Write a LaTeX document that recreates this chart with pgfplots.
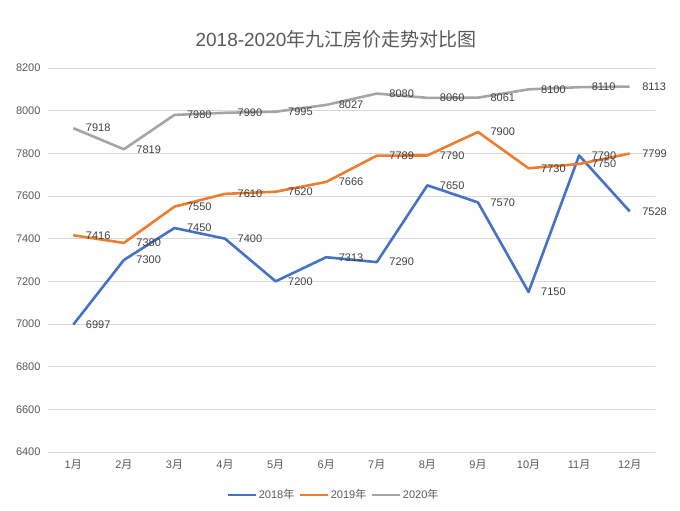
\documentclass[border=0pt]{standalone}
\usepackage{pgfplots}
\pgfplotsset{compat=1.18}
\usepackage{fontspec}
\setmainfont{Liberation Sans}
\newfontfamily\cjk{Noto Sans CJK SC}
\definecolor{c18}{HTML}{4472C4}
\definecolor{c19}{HTML}{ED7D31}
\definecolor{c20}{HTML}{A5A5A5}
\definecolor{gridc}{HTML}{D9D9D9}
\definecolor{tickc}{HTML}{595959}
\definecolor{labc}{HTML}{404040}
\newcommand{\yue}{{\cjk 月}}
\newcommand{\nian}{{\cjk 年}}
\begin{document}
\begin{tikzpicture}
\useasboundingbox (0,0) rectangle (680bp,511bp);
\begin{axis}[
  at={(48bp,59bp)}, anchor=south west,
  width=607bp, height=384bp, scale only axis,
  xmin=-0.5, xmax=11.5, ymin=6400, ymax=8200,
  ytick={6400,6600,...,8200},
  xtick={0,...,11},
  xticklabels={1\yue,2\yue,3\yue,4\yue,5\yue,6\yue,7\yue,8\yue,9\yue,10\yue,11\yue,12\yue},
  ymajorgrids, grid style={gridc, line width=0.8bp},
  axis line style={draw=none},
  major tick length=0pt,
  tick label style={font=\fontsize{11bp}{13bp}\selectfont, text=tickc},
  /pgf/number format/assume math mode=true,
  /pgf/number format/.cd, fixed, precision=0, 1000 sep={},
  /pgfplots/.cd,
  yticklabel style={xshift=-4bp},
  xticklabel style={yshift=-4bp},
  clip=false,
  nodes near coords,
  point meta=y,
  nodes near coords style={anchor=west, xshift=8bp, font=\fontsize{11bp}{13bp}\selectfont, text=labc},
  every axis plot/.append style={line width=2.6bp, line join=round, mark=none},
  legend columns=3,
  legend style={at={(0.47,-0.112)}, anchor=center, draw=none, fill=none,
    font=\fontsize{11bp}{13bp}\selectfont, text=tickc,
    /tikz/every even column/.append style={column sep=2bp}},
  legend image code/.code={\draw[#1] (0bp,0bp) -- (28bp,0bp);},
]
\addplot[c18] coordinates {(0,6997)(1,7300)(2,7450)(3,7400)(4,7200)(5,7313)(6,7290)(7,7650)(8,7570)(9,7150)(10,7790)(11,7528)};
\addlegendentry{2018\nian}
\addplot[c19] coordinates {(0,7416)(1,7380)(2,7550)(3,7610)(4,7620)(5,7666)(6,7789)(7,7790)(8,7900)(9,7730)(10,7750)(11,7799)};
\addlegendentry{2019\nian}
\addplot[c20] coordinates {(0,7918)(1,7819)(2,7980)(3,7990)(4,7995)(5,8027)(6,8080)(7,8060)(8,8061)(9,8100)(10,8110)(11,8113)};
\addlegendentry{2020\nian}
\end{axis}
\node[text=tickc, font=\fontsize{19bp}{22bp}\selectfont] at (336bp,472bp) {2018-2020{\cjk 年九江房价走势对比图}};
\end{tikzpicture}
\end{document}
